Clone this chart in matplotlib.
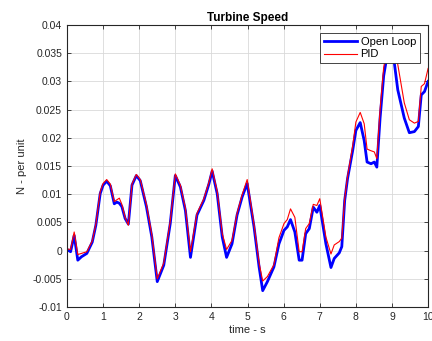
import numpy as np
import matplotlib
matplotlib.use('Agg')
import matplotlib.pyplot as plt

plt.rcParams['font.family'] = ['Liberation Sans', 'DejaVu Sans']

# time samples (s)
t = [0.0, 0.1, 0.2, 0.3, 0.4, 0.55, 0.7, 0.8, 0.92, 1.0,
     1.1, 1.2, 1.31, 1.38, 1.45, 1.52, 1.61, 1.7, 1.8, 1.92,
     2.03, 2.2, 2.35, 2.5, 2.68, 2.86, 3.0, 3.14, 3.28, 3.42,
     3.6, 3.79, 3.93, 4.02, 4.16, 4.3, 4.42, 4.57, 4.71, 4.85,
     4.99, 5.18, 5.32, 5.42, 5.55, 5.73, 5.87, 6.01, 6.1, 6.19,
     6.31, 6.43, 6.51, 6.61, 6.71, 6.82, 6.92, 7.0, 7.17, 7.31,
     7.4, 7.54, 7.61, 7.69, 7.77, 7.91, 8.0, 8.12, 8.23, 8.31,
     8.42, 8.51, 8.58, 8.67, 8.77, 8.87, 8.96, 9.05, 9.16, 9.34,
     9.48, 9.62, 9.73, 9.81, 9.9, 10.0]

# turbine speed, open loop (p.u.)
n_open = [0.0002, -0.0002, 0.0027, -0.0017, -0.0011, -0.0005, 0.0015, 0.0045, 0.0101, 0.0116,
          0.0123, 0.0115, 0.0083, 0.0086, 0.0084, 0.0078, 0.0057, 0.0047, 0.0116, 0.0133,
          0.0124, 0.0078, 0.0024, -0.0055, -0.0026, 0.0048, 0.0133, 0.0113, 0.0071, -0.0012,
          0.0063, 0.0089, 0.0118, 0.0141, 0.0101, 0.0024, -0.0012, 0.0012, 0.0063, 0.0095,
          0.0119, 0.0042, -0.0029, -0.0071, -0.0055, -0.0029, 0.0012, 0.0036, 0.0042, 0.0055,
          0.0033, -0.0017, -0.0017, 0.0030, 0.0039, 0.0077, 0.0068, 0.0080, 0.0012, -0.0030,
          -0.0014, -0.0004, 0.0007, 0.0089, 0.0128, 0.0177, 0.0213, 0.0227, 0.0195, 0.0157,
          0.0154, 0.0157, 0.0148, 0.0235, 0.0310, 0.0348, 0.0362, 0.0340, 0.0285, 0.0235,
          0.0209, 0.0211, 0.0220, 0.0276, 0.0282, 0.0300]

# turbine speed, PID control (p.u.)
n_pid = [0.0003, 0.0002, 0.0033, -0.0007, -0.0005, -0.0002, 0.0017, 0.0047, 0.0104, 0.0119,
         0.0126, 0.0118, 0.0087, 0.0090, 0.0093, 0.0082, 0.0059, 0.0045, 0.0118, 0.0135,
         0.0126, 0.0082, 0.0028, -0.0050, -0.0022, 0.0052, 0.0136, 0.0116, 0.0075, -0.0002,
         0.0066, 0.0092, 0.0121, 0.0145, 0.0105, 0.0030, 0.0002, 0.0018, 0.0066, 0.0099,
         0.0126, 0.0046, -0.0022, -0.0054, -0.0046, -0.0025, 0.0023, 0.0048, 0.0055, 0.0074,
         0.0059, -0.0002, -0.0002, 0.0039, 0.0048, 0.0082, 0.0080, 0.0092, 0.0024, -0.0006,
         0.0010, 0.0016, 0.0022, 0.0092, 0.0132, 0.0185, 0.0228, 0.0245, 0.0225, 0.0180,
         0.0177, 0.0175, 0.0163, 0.0250, 0.0325, 0.0360, 0.0372, 0.0368, 0.0330, 0.0262,
         0.0232, 0.0226, 0.0229, 0.0291, 0.0296, 0.0323]

yticks = [-0.01, -0.005, 0, 0.005, 0.01, 0.015, 0.02, 0.025, 0.03, 0.035, 0.04]
yticklabels = ['-0.01', '-0.005', '0', '0.005', '0.01', '0.015', '0.02',
               '0.025', '0.03', '0.035', '0.04']
xticks = list(range(0, 11))

fig = plt.figure(figsize=(4.32, 3.41), dpi=100, facecolor='white')
ax = fig.add_axes([0.155, 0.0997, 0.836, 0.827])

ax.plot(t, n_open, color='blue', linewidth=2.0, label='Open Loop')
ax.plot(t, n_pid, color='red', linewidth=0.8, label='PID')

ax.set_xlim(0, 10)
ax.set_ylim(-0.01, 0.04)
ax.set_xticks(xticks)
ax.set_yticks(yticks)
ax.set_yticklabels(yticklabels)

ax.grid(True, color='#d9d9d9', linewidth=0.6)
ax.set_axisbelow(True)
ax.tick_params(direction='in', length=3, width=0.6, top=True, right=True,
               labelsize=7.5, colors='#262626')
for s in ax.spines.values():
    s.set_color('#262626')
    s.set_linewidth(0.8)

ax.set_title('Turbine Speed', fontsize=8.5, fontweight='bold', pad=3)
ax.set_xlabel('time - s', fontsize=8, color='#262626', labelpad=2)
ax.set_ylabel('N - per unit', fontsize=8, color='#262626', labelpad=4)

leg = ax.legend(loc='upper right', fontsize=8, fancybox=False, framealpha=1,
                edgecolor='#262626', handlelength=3.0, borderpad=0.35,
                labelspacing=0.2, handletextpad=0.3, borderaxespad=0.75)
leg.get_frame().set_linewidth(0.6)

fig.savefig('out.png', dpi=100)
